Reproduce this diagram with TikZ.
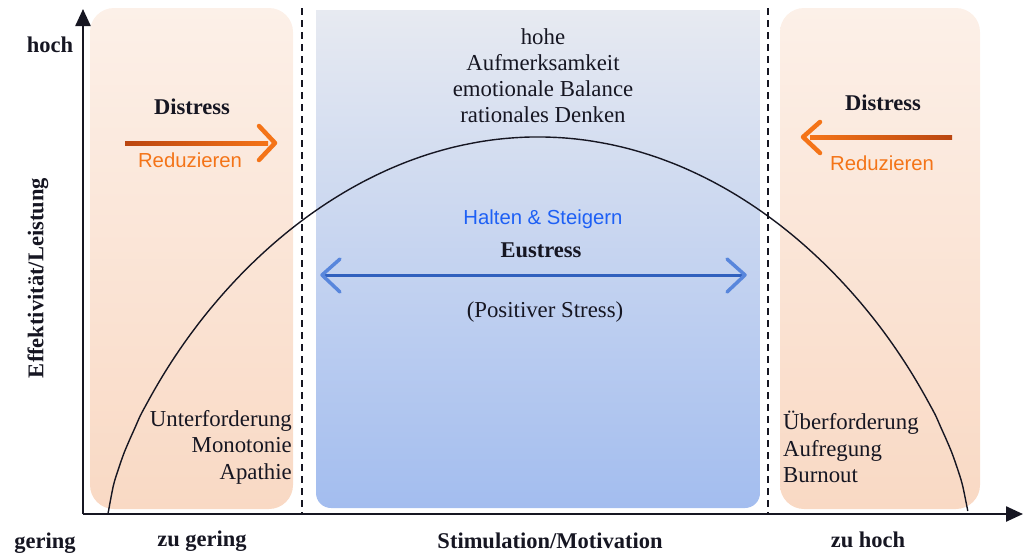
\documentclass[tikz,border=0pt]{standalone}
\usepackage{fontspec}
\setmainfont{Liberation Serif}
\newfontfamily\uisans{Liberation Sans}
\usetikzlibrary{arrows.meta}

\definecolor{peachtop}{RGB}{252,240,232}
\definecolor{peachbot}{RGB}{249,217,196}
\definecolor{bluetop}{RGB}{231,234,241}
\definecolor{bluebot}{RGB}{163,189,239}
\definecolor{redorange}{RGB}{244,116,24}
\definecolor{burnt}{RGB}{186,70,16}
\definecolor{eublue}{RGB}{48,96,190}
\definecolor{eulight}{RGB}{88,134,220}
\definecolor{holdblue}{RGB}{30,96,245}
\definecolor{ink}{RGB}{22,22,34}

\tikzset{
  txt/.style={inner sep=0pt, text=ink, font=\fontsize{22.8}{26.5}\selectfont},
  boldtxt/.style={txt, font=\fontsize{22.5}{26}\selectfont\bfseries},
  actiontxt/.style={inner sep=0pt, font=\uisans\fontsize{20.3}{24}\selectfont},
  axisline/.style={line width=2.4pt, ink, -{Triangle[length=17pt,width=15pt]}},
  zoneline/.style={line width=1.8pt, ink, dash pattern=on 7pt off 5pt},
  chevron/.style={line width=4.5pt, line cap=round, line join=round},
}

\begin{document}
\begin{tikzpicture}[x=1pt,y=-1pt]
\useasboundingbox (0,0) rectangle (1023,555);

% background zones
\shade[top color=peachtop, bottom color=peachbot, rounded corners=24pt]
  (90,8) rectangle (293,509);
\shade[top color=peachtop, bottom color=peachbot, rounded corners=24pt]
  (780,8) rectangle (980,509);
\shade[top color=bluetop, bottom color=bluebot]
  (316,10) -- (316,493) arc[start angle=180, end angle=270, radius=15pt]
  -- (745,508) arc[start angle=270, end angle=360, radius=15pt]
  -- (760,10) -- cycle;

% zone borders
\coordinate (dl-top) at (302,8);
\coordinate (dl-bot) at (302,514);
\coordinate (dr-top) at (768,8);
\coordinate (dr-bot) at (768,514);
\draw[zoneline] (dl-top) -- (dl-bot);
\draw[zoneline] (dr-top) -- (dr-bot);

% performance curve
\draw[line width=1.4pt, ink] plot[domain=-1:1, samples=161, smooth]
  ({538+430*\x},{514-377*(abs(1-\x*\x)+0.00001)^0.7});

% axes
\coordinate (origin) at (83,514);
\coordinate (ytip) at (83,9);
\coordinate (xtip) at (1023,514);
\draw[axisline] (origin) -- (ytip);
\draw[axisline] (origin) -- (xtip);

% axis labels
\node[boldtxt] (hoch) at (50,45) {hoch};
\node[boldtxt] (gering) at (45,543) {gering};
\node[boldtxt] (zugering) at (202,541) {zu gering};
\node[boldtxt] (stim) at (550,541) {Stimulation/Motivation};
\node[boldtxt] (zuhoch) at (868,540) {zu hoch};
\node[boldtxt, rotate=90] (ylabel) at (38,278) {Effektivität/Leistung};

% left zone: distress
\node[boldtxt] (distL) at (192,107) {Distress};
\coordinate (la-start) at (125,143);
\coordinate (la-tip) at (275,143);
\shade[left color=burnt, right color=redorange] (125,141) rectangle (268,145);
\draw[chevron, redorange] (259,126) -- (la-tip) -- (259,160);
\node[actiontxt, text=redorange] (redL) at (190,160) {Reduzieren};
\node[txt, align=right, anchor=east] (under) at (292,447)
  {Unterforderung\\Monotonie\\Apathie};

% right zone: distress
\node[boldtxt] (distR) at (883,103) {Distress};
\coordinate (ra-start) at (952,137);
\coordinate (ra-tip) at (803,137);
\shade[left color=redorange, right color=burnt] (810,135) rectangle (952,139);
\draw[chevron, redorange] (820,122) -- (ra-tip) -- (820,153);
\node[actiontxt, text=redorange] (redR) at (882,163) {Reduzieren};
\node[txt, align=left, anchor=west] (over) at (783,447)
  {Überforderung\\Aufregung\\Burnout};

% middle zone: eustress
\node[txt, align=center, font=\fontsize{22.8}{26}\selectfont] (optimum) at (543,76)
  {hohe\\Aufmerksamkeit\\emotionale Balance\\rationales Denken};
\node[actiontxt, text=holdblue] (hold) at (543,219) {Halten \& Steigern};
\node[boldtxt] (eu) at (541,250) {Eustress};
\coordinate (ea-left) at (322,275);
\coordinate (ea-right) at (745,275);
\draw[line width=3pt, eublue] (ea-left) -- (ea-right);
\draw[line width=3.5pt, line cap=round, line join=round, eulight]
  (340,259) -- (ea-left) -- (340,292);
\draw[line width=3.5pt, line cap=round, line join=round, eulight]
  (727,259) -- (ea-right) -- (727,292);
\node[txt] (pos) at (545,312) {(Positiver Stress)};
\end{tikzpicture}
\end{document}
